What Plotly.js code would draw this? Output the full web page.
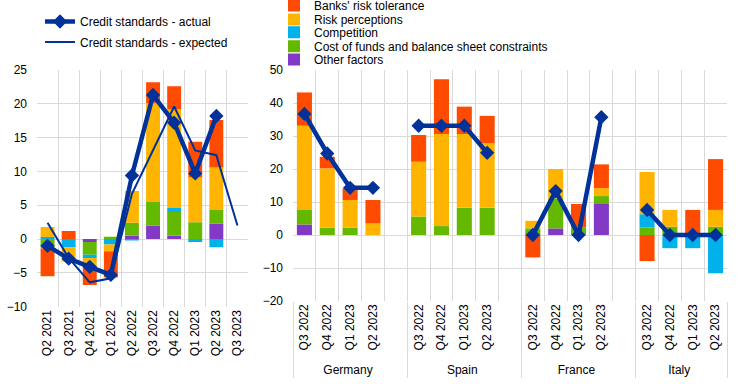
<!DOCTYPE html>
<html>
<head>
<meta charset="utf-8">
<script src="https://cdn.plot.ly/plotly-3.0.1.min.js"></script>
<style>html,body{margin:0;padding:0;background:#fff}#chart{width:738px;height:384px}</style>
</head>
<body>
<div id="chart"></div>
<script>
// ---- Left panel (euro area) ----
const leftCats = ["Q2 2021","Q3 2021","Q4 2021","Q1 2022","Q2 2022","Q3 2022","Q4 2022","Q1 2023","Q2 2023","Q3 2023"];
const leftBanks = [-4.1, 1.2, -2.9, -3.9, 0, 3.1, 3.4, 5.3, 7.0, null];
const leftRisk = [1.5, -2.1, -1.1, -1.0, 4.7, 14.6, 14.6, 6.6, 6.3, null];
const leftCompetition = [0.3, -1.2, -0.5, -0.8, -0.2, 0, 0.6, -0.45, -1.2, null];
const leftCost = [-1.4, 0, -1.85, 0.35, 1.9, 3.5, 3.5, 2.5, 2.0, null];
const leftOther = [0, 0, -0.45, 0, 0.5, 2.0, 0.5, 0, 2.3, null];
const leftActual = [-1.0, -2.9, -4.1, -5.3, 9.4, 21.3, 17.2, 9.7, 18.2, null];
const leftExpected = [2.4, -2.8, -6.4, -5.8, 6.7, 13.1, 19.6, 13.1, 12.4, 2.0];

// ---- Right panel (countries) ----
const countries = ["Germany", "Spain", "France", "Italy"];
const quarters = ["Q3 2022", "Q4 2022", "Q1 2023", "Q2 2023"];
const banksByCountry = {Germany: [10.1, 3.5, 3.5, 7.1], Spain: [8.1, 16.6, 8.3, 8.3], France: [-6.8, 0, 7.1, 7.2], Italy: [-7.9, 0, 7.6, 15.4]};
const riskByCountry = {Germany: [25.5, 18.0, 8.4, 3.5], Spain: [16.6, 27.9, 22.3, 19.5], France: [2.3, 8.9, 0, 2.4], Italy: [12.8, 5.1, 0, 5.1]};
const competitionByCountry = {Germany: [0, 0, 0, 0], Spain: [0, 0, 0, 0], France: [0, 0, 0, 0], Italy: [4.0, -4.0, -4.0, -11.6]};
const costByCountry = {Germany: [4.4, 2.2, 2.2, 0], Spain: [5.6, 2.7, 8.3, 8.3], France: [2.0, 9.1, 2.3, 2.4], Italy: [2.3, 2.5, 0, 2.5]};
const otherByCountry = {Germany: [3.2, 0, 0, 0], Spain: [0, 0, 0, 0], France: [0, 2.0, 0, 9.4], Italy: [0, 0, 0, 0]};
const actualByCountry = {Germany: [36.7, 24.7, 14.3, 14.3], Spain: [33.1, 33.1, 33.1, 24.9], France: [0, 13.3, 0, 35.7], Italy: [7.6, 0, 0, 0]};

const factorNames = ["Other factors", "Cost of funds and balance sheet constraints", "Competition", "Risk perceptions", "Banks' risk tolerance"];
const factorColors = ["#8139C6", "#65B800", "#00B1EA", "#FFB400", "#FF4B00"];
const lineNames = ["Credit standards - actual", "Credit standards - expected"];
const lineColor = "#003299";

// Build multicategory x with an empty slot after each country except the last
const groupLevel = [], quarterLevel = [];
function flatten(obj) {
  const out = [];
  countries.forEach((c, i) => {
    obj[c].forEach(v => out.push(v));
    if (i < countries.length - 1) out.push(null);
  });
  return out;
}
countries.forEach((c, i) => {
  quarters.forEach(q => { groupLevel.push(c); quarterLevel.push(q); });
  if (i < countries.length - 1) { groupLevel.push(c); quarterLevel.push(" "); }
});
const rightX = [groupLevel, quarterLevel];
const nRight = groupLevel.length;

const leftSeries = [leftOther, leftCost, leftCompetition, leftRisk, leftBanks];
const rightSeries = [otherByCountry, costByCountry, competitionByCountry, riskByCountry, banksByCountry];

const traces = [];
leftSeries.forEach((vals, i) => {
  traces.push({type: "bar", x: leftCats, y: vals, name: factorNames[i], marker: {color: factorColors[i], line: {width: 0}},
    xaxis: "x", yaxis: "y", showlegend: false, hoverinfo: "skip"});
});
rightSeries.forEach((obj, i) => {
  traces.push({type: "bar", x: rightX, y: flatten(obj), name: factorNames[i], marker: {color: factorColors[i], line: {width: 0}},
    xaxis: "x2", yaxis: "y2", showlegend: true, legend: "legend" + (7 - i), hoverinfo: "skip"});
});
traces.push({type: "scatter", mode: "lines", x: leftCats, y: leftExpected, name: lineNames[1],
  line: {color: lineColor, width: 2}, xaxis: "x", yaxis: "y", legend: "legend2", showlegend: true});
traces.push({type: "scatter", mode: "lines+markers", x: leftCats, y: leftActual, name: lineNames[0],
  line: {color: lineColor, width: 4.5}, marker: {symbol: "diamond", size: 11, color: lineColor},
  xaxis: "x", yaxis: "y", legend: "legend", showlegend: true});
traces.push({type: "scatter", mode: "lines+markers", x: rightX, y: flatten(actualByCountry), name: lineNames[0],
  line: {color: lineColor, width: 4.5}, marker: {symbol: "diamond", size: 11, color: lineColor},
  xaxis: "x2", yaxis: "y2", showlegend: false, connectgaps: false});

const W = 738, H = 384;
const font = {family: "Liberation Sans, Arial, sans-serif", size: 12, color: "#000"};
const grid = "#d9d9d9";
function leg(px, py) {
  return {x: px / W, y: 1 - py / H, xanchor: "left", yanchor: "middle", bgcolor: "rgba(0,0,0,0)",
    borderwidth: 0, font: font, orientation: "v"};
}
const layout = {
  width: W, height: H, margin: {l: 0, r: 0, t: 0, b: 0, autoexpand: false},
  paper_bgcolor: "#fff", plot_bgcolor: "#fff", font: font,
  barmode: "relative", bargap: 0.34,
  xaxis: {domain: [37 / W, 248 / W], anchor: "y", type: "category", tickson: "boundaries",
    showgrid: true, gridcolor: grid, gridwidth: 1, tickangle: -90, ticks: "", showline: false,
    tickfont: font, range: [-0.5, leftCats.length - 0.5], fixedrange: true},
  yaxis: {domain: [1 - 306.7 / H, 1 - 70 / H], anchor: "x", range: [-10, 25], dtick: 5,
    showgrid: true, gridcolor: grid, zeroline: false, ticks: "", tickfont: font, ticklabelstandoff: 9, fixedrange: true},
  xaxis2: {domain: [293 / W, 727 / W], anchor: "y2", type: "multicategory", tickson: "boundaries",
    range: [-0.5, nRight - 0.5], autorange: false,
    showgrid: true, gridcolor: grid, tickangle: -90, ticks: "", showdividers: true, dividercolor: grid,
    dividerwidth: 1, tickfont: font, fixedrange: true},
  yaxis2: {domain: [1 - 301 / H, 1 - 70 / H], anchor: "x2", range: [-20, 50], dtick: 10,
    showgrid: true, gridcolor: grid, zeroline: false, ticks: "", tickfont: font, ticklabelstandoff: 9, fixedrange: true},
  legend: leg(40, 21.5),
  legend2: leg(40, 42),
  legend3: leg(274, 5.5),
  legend4: leg(274, 19.5),
  legend5: leg(274, 32.2),
  legend6: leg(274, 46.2),
  legend7: leg(274, 59.5),
  showlegend: true
};
Plotly.newPlot("chart", traces, layout, {displayModeBar: false, staticPlot: true});
</script>
</body>
</html>
